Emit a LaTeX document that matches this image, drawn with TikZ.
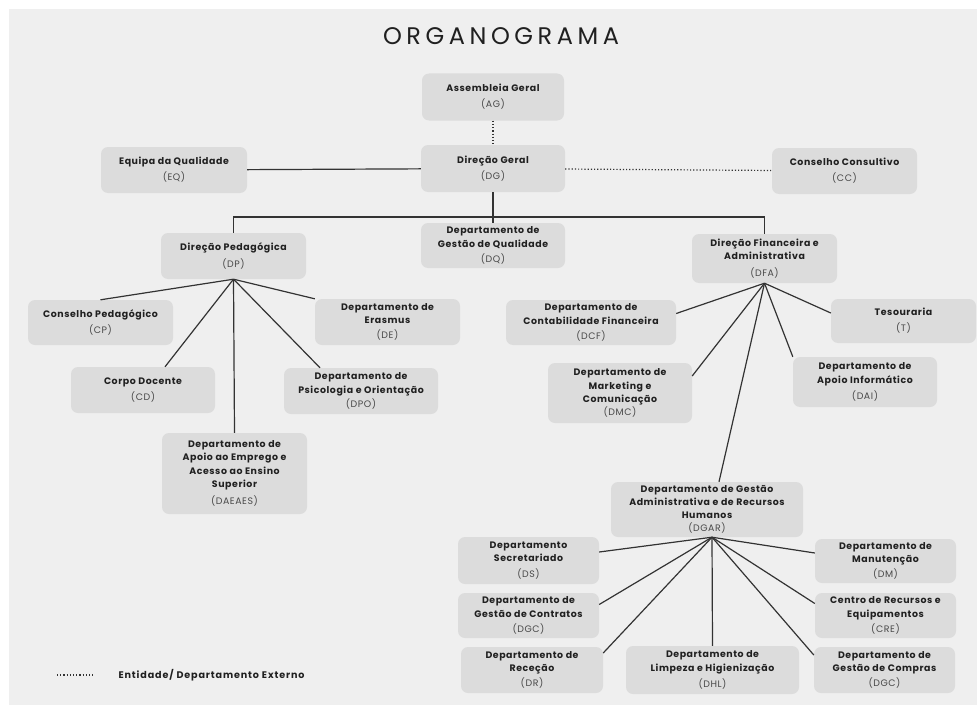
\documentclass[tikz,border=0pt]{standalone}
\usepackage{fontspec}
\setmainfont{Poppins}
\newfontfamily\titlefont[LetterSpace=19]{Poppins}
\newfontfamily\boxfont[LetterSpace=6]{Poppins}
\newfontfamily\legendfont[LetterSpace=9]{Poppins}
\usetikzlibrary{positioning}
\definecolor{panel}{HTML}{EFEFEF}
\definecolor{boxgray}{HTML}{DCDCDC}
\definecolor{ink}{HTML}{202020}
\definecolor{abgray}{HTML}{484848}
\definecolor{wirecol}{HTML}{333333}
\newcommand{\ab}[1]{{\mdseries\color{abgray}(#1)}}
\tikzset{
    x=1pt, y=-1pt, % one unit is one pixel of the sketch, y grows downwards
    unit/.style={rounded corners=7pt, fill=boxgray, text=ink, align=center, inner sep=0pt,
        font=\boxfont\bfseries\fontsize{9.4}{13.2}\selectfont}, % every box of the chart
    wire/.style={draw=wirecol, line width=1.2pt}, % solid connectors
    external/.style={wire, dotted}, % dotted connectors for external entities
    }
\begin{document}
\begin{tikzpicture}

\fill[white] (0,0) rectangle (977,709);
\fill[panel] (9,9) rectangle (977,705);
\useasboundingbox (0,0) rectangle (977,709);

\node[text=ink, font=\titlefont\fontsize{24}{24}\selectfont] (title) at (501,36) {ORGANOGRAMA};

% top
\node[unit, minimum width=142pt, minimum height=47pt] (AG) at (493,97) {Assembleia Geral\\[3pt]\ab{AG}};
\node[unit, minimum width=144pt, minimum height=47pt] (DG) at (493,168.5) {Direção Geral\\[3pt]\ab{DG}};
\node[unit, minimum width=146pt, minimum height=46pt] (EQ) at (174,170) {Equipa da Qualidade\\[3pt]\ab{EQ}};
\node[unit, minimum width=145pt, minimum height=46pt] (CC) at (844.5,171) {Conselho Consultivo\\[3pt]\ab{CC}};
\node[unit, minimum width=144pt, minimum height=45pt] (DQ) at (493,245.5) {Departamento de\\Gestão de Qualidade\\[2pt]\ab{DQ}};
\node[unit, minimum width=145pt, minimum height=46pt] (DP) at (233.5,256) {Direção Pedagógica\\[3pt]\ab{DP}};
\node[unit, minimum width=145pt, minimum height=49pt] (DFA) at (764.5,258.5) {Direção Financeira e\\Administrativa\\[3pt]\ab{DFA}};

% pedagogical side
\node[unit, minimum width=145pt, minimum height=45pt] (CP) at (100.5,322.5) {Conselho Pedagógico\\[3pt]\ab{CP}};
\node[unit, minimum width=145pt, minimum height=46pt] (DE) at (387.5,322) {Departamento de\\Erasmus\\[2pt]\ab{DE}};
\node[unit, minimum width=144pt, minimum height=46pt] (CD) at (143,390) {Corpo Docente\\[3pt]\ab{CD}};
\node[unit, minimum width=154pt, minimum height=46pt] (DPO) at (361,391) {Departamento de\\Psicologia e Orientação\\[1pt]\ab{DPO}};
\node[unit, minimum width=145pt, minimum height=81pt] (DAEAES) at (234.5,473.5) {Departamento de\\Apoio ao Emprego e\\Acesso ao Ensino\\Superior\\[4pt]\ab{DAEAES}};

% financial side
\node[unit, minimum width=170pt, minimum height=45pt] (DCF) at (591,322.5) {Departamento de\\Contabilidade Financeira\\[2pt]\ab{DCF}};
\node[unit, minimum width=145pt, minimum height=44pt] (T) at (903.5,321) {Tesouraria\\[3pt]\ab{T}};
\node[unit, minimum width=144pt, minimum height=60pt] (DMC) at (620,393) {Departamento de\\Marketing e\\Comunicação\\\ab{DMC}};
\node[unit, minimum width=144pt, minimum height=50pt] (DAI) at (865,382) {Departamento de\\Apoio Informático\\[3pt]\ab{DAI}};
\node[unit, minimum width=192pt, minimum height=55pt] (DGAR) at (707,509.5) {Departamento de Gestão\\Administrativa e de Recursos\\Humanos\\\ab{DGAR}};

% human resources
\node[unit, minimum width=141pt, minimum height=47pt] (DS) at (528.5,560.5) {Departamento\\Secretariado\\[2pt]\ab{DS}};
\node[unit, minimum width=141pt, minimum height=45pt] (DGCo) at (528.5,615.5) {Departamento de\\Gestão de Contratos\\[2pt]\ab{DGC}};
\node[unit, minimum width=142pt, minimum height=46pt] (DR) at (532,670) {Departamento de\\Receção\\[2pt]\ab{DR}};
\node[unit, minimum width=173pt, minimum height=48pt] (DHL) at (712.5,670) {Departamento de\\Limpeza e Higienização\\[3pt]\ab{DHL}};
\node[unit, minimum width=141pt, minimum height=44pt] (DM) at (885.5,561) {Departamento de\\Manutenção\\[2pt]\ab{DM}};
\node[unit, minimum width=141pt, minimum height=45pt] (CRE) at (885.5,615.5) {Centro de Recursos e\\Equipamentos\\[2pt]\ab{CRE}};
\node[unit, minimum width=141pt, minimum height=46pt] (DGCm) at (884.5,670) {Departamento de\\Gestão de Compras\\[2pt]\ab{DGC}};

% legend
\coordinate (lgA) at (57,675);
\coordinate (lgB) at (95,675);
\node[anchor=west, text=ink, font=\legendfont\bfseries\fontsize{9.6}{10}\selectfont] (legend) at (115,675) {Entidade/ Departamento Externo};

\coordinate (hub) at ([xshift=5pt]DGAR.south);

\draw[external] (AG) -- (DG);
\draw[external] (DG) -- (CC);
\draw[external] (lgA) -- (lgB);
\draw[wire] (EQ) -- (DG);
\draw[wire] (DG) -- (DQ);
\draw[wire] (DP.north) |- (493,217) -| (DFA.north);

\draw[wire] (DP.south) edge (CP.north)
(DP.south) edge (DE.north west)
(DP.south) edge ([xshift=22pt]CD.north)
(DP.south) edge (DAEAES.north)
(DP.south) edge ([xshift=-41pt]DPO.north)
(DFA.south) edge ([yshift=9pt]DCF.east)
(DFA.south) edge ([yshift=8pt]T.west)
(DFA.south) edge ([yshift=17pt]DMC.east)
(DFA.south) edge (DAI.north west)
(DFA.south) edge ([xshift=12pt]DGAR.north)
(hub) edge ([yshift=8.5pt]DS.east)
(hub) edge ([yshift=11pt]DGCo.east)
(hub) edge ([yshift=17pt]DR.east)
(hub) edge (DHL.north)
(hub) edge ([yshift=8pt]DM.west)
(hub) edge ([yshift=12pt]CRE.west)
(hub) edge ([yshift=15pt]DGCm.west);

\end{tikzpicture}
\end{document}
